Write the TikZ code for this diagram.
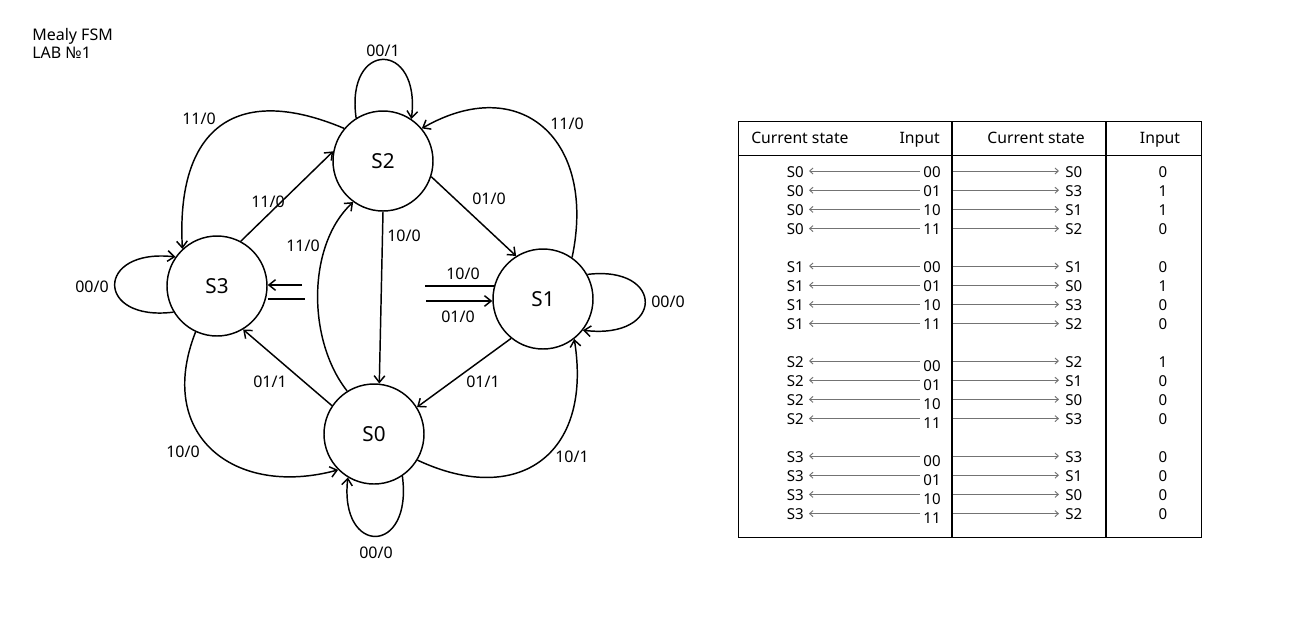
\documentclass[tikz,border=0pt]{standalone}
\usepackage{fontspec}
\setmainfont{Noto Sans}
\usetikzlibrary{arrows.meta}
\begin{document}
\begin{tikzpicture}[x=0.75pt,y=-0.75pt,
  state/.style={circle, draw, line width=1.1pt, minimum size=75pt, inner sep=0pt, font=\fontsize{15.5}{18}\selectfont},
  tr/.style={line width=1.1pt, -{Straight Barb[length=5pt,width=8pt]}},
  plain/.style={line width=1.1pt},
  lbl/.style={font=\fontsize{12}{14}\selectfont, inner sep=0pt},
  ttl/.style={font=\fontsize{12}{14}\selectfont, inner sep=0pt},
  hdr/.style={font=\fontsize{11.8}{14}\selectfont, inner sep=0pt},
  cell/.style={font=\fontsize{11.3}{13}\selectfont, inner sep=0pt},
  tarrow/.style={line width=0.7pt, draw=black!55, -{Straight Barb[length=2.5pt,width=4.5pt]}}]
\useasboundingbox (0,0) rectangle (1307,626);

% title
\node[ttl, anchor=west] (t1) at (32,36) {Mealy FSM};
\node[ttl, anchor=west] (t2) at (32,53) {LAB №1};

% states
\node[state] (S2) at (383,161) {S2};
\node[state] (S3) at (217,286) {S3};
\node[state] (S1) at (543,299) {S1};
\node[state] (S0) at (374,434) {S0};

% self loops
\draw[tr] (S2.122) .. controls (345,40) and (421,40) .. (S2.56);
\draw[tr] (S3.211) .. controls (95,322) and (95,248) .. (S3.145);
\draw[tr] (S1.29) .. controls (665,265) and (665,340) .. (S1.-38);
\draw[tr] (S0.-56) .. controls (413,556) and (339,556) .. (S0.-121);

% straight transitions
\draw[tr] (S3.62) -- (S2.169);
\draw[tr] (S2.-18) -- (S1.122);
\draw[tr] (S2.270) -- (S0.84);
\draw[tr] (S1.231) -- (S0.32);
\draw[tr] (S0.146) -- (S3.-59);

% curved transitions
\draw[tr] (S2.140) .. controls (234,82) and (176,130) .. (S3.133);
\draw[tr] (S1.55) .. controls (597,139) and (520,72) .. (S2.40);
\draw[tr] (S0.122) .. controls (307,340) and (307,245) .. (S2.234);
\draw[tr] (S3.245) .. controls (155,435) and (234,498) .. (S0.225);
\draw[tr] (S0.-31) .. controls (517,507) and (593,456) .. (S1.-52);

% stubs between S3 and S1
\coordinate (a1) at (302,285);
\coordinate (a2) at (305,299);
\coordinate (b1) at (425,286);
\coordinate (b2) at (426,301);
\draw[tr] (a1) -- (a1 -| S3.east);
\draw[plain] (a2 -| S3.east) -- (a2);
\draw[plain] (b1) -- (494,286);
\draw[tr] (b2) -- (b2 -| S1.west);

% labels
\node[lbl] (l1) at (383,51) {00/1};
\node[lbl] (l2) at (199,119) {11/0};
\node[lbl] (l3) at (268,202) {11/0};
\node[lbl] (l4) at (303,246) {11/0};
\node[lbl] (l5) at (404,236) {10/0};
\node[lbl] (l6) at (92,287) {00/0};
\node[lbl] (l7) at (567,124) {11/0};
\node[lbl] (l8) at (489,199) {01/0};
\node[lbl] (l9) at (463,274) {10/0};
\node[lbl] (l10) at (458,317) {01/0};
\node[lbl] (l11) at (668,302) {00/0};
\node[lbl] (l12) at (270,382) {01/1};
\node[lbl] (l13) at (483,382) {01/1};
\node[lbl] (l14) at (572,457) {10/1};
\node[lbl] (l15) at (376,553) {00/0};
\node[lbl] (l16) at (183,452) {10/0};

% table
\draw[line width=0.75pt] (738,121) rectangle (1201,537);
\draw[line width=0.75pt] (738,155) -- (1201,155);
\draw[line width=1.5pt] (952,121) -- (952,537);
\draw[line width=1.5pt] (1106,121) -- (1106,537);
\node[hdr, anchor=base west] (h1) at (751,143) {Current state};
\node[hdr, anchor=base east] (h2) at (940,143) {Input};
\node[hdr, anchor=base] (h3) at (1036,143) {Current state};
\node[hdr, anchor=base] (h4) at (1160,143) {Input};

\foreach \g/\r/\s/\inp/\nx/\o in {
  0/0/S0/00/S0/0, 0/1/S0/01/S3/1, 0/2/S0/10/S1/1, 0/3/S0/11/S2/0,
  1/0/S1/00/S1/0, 1/1/S1/01/S0/1, 1/2/S1/10/S3/0, 1/3/S1/11/S2/0,
  2/0/S2/00/S2/1, 2/1/S2/01/S1/0, 2/2/S2/10/S0/0, 2/3/S2/11/S3/0,
  3/0/S3/00/S3/0, 3/1/S3/01/S1/0, 3/2/S3/10/S0/0, 3/3/S3/11/S2/0}{
  \pgfmathsetmacro\yy{172+95*\g+19.2*\r}
  \pgfmathsetmacro\yi{\yy+(\g>1?4:0)}
  \pgfmathsetmacro\ya{\yy-1}
  \node[cell, anchor=east] (cs\g\r) at (804,\yy) {\s};
  \node[cell] (in\g\r) at (932,\yi) {\inp};
  \node[cell, anchor=west] (ns\g\r) at (1065,\yy) {\nx};
  \node[cell] (o\g\r) at (1163,\yy) {\o};
  \coordinate (la\g\r) at (920,\ya);
  \coordinate (lt\g\r) at (809,\ya);
  \coordinate (ra\g\r) at (953,\ya);
  \coordinate (rt\g\r) at (1059,\ya);
  \draw[tarrow] (la\g\r) -- (lt\g\r);
  \draw[tarrow] (ra\g\r) -- (rt\g\r);
}
\end{tikzpicture}
\end{document}
